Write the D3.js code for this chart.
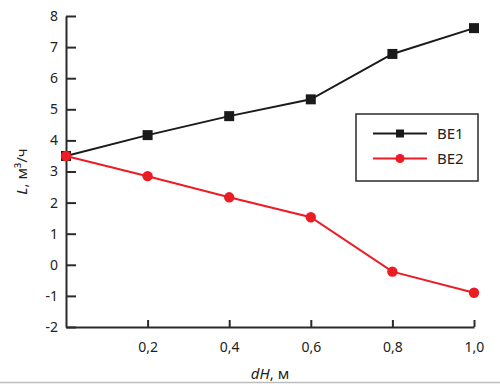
<!DOCTYPE html>
<html>
<head>
<meta charset="utf-8">
<script src="https://cdn.jsdelivr.net/npm/d3@7"></script>
<style>
	body { margin: 0; background: #fff; }
	svg { display: block; font-family: "Noto Sans", "Open Sans", sans-serif; }
</style>
</head>
<body>
<script>
(function () {
	"use strict";

	var w = 500;
	var h = 384;
	var margin = { top: 16, right: 26, bottom: 57, left: 66 };

	// data
	var dH = [0, 0.2, 0.4, 0.6, 0.8, 1.0];
	var be1 = [3.5, 4.17, 4.78, 5.32, 6.78, 7.61];
	var be2 = [3.5, 2.85, 2.17, 1.53, -0.22, -0.9];
	var seriesNames = ["BE1", "BE2"];
	var xTicks = [0.2, 0.4, 0.6, 0.8, 1.0];
	var yTicks = [-2, -1, 0, 1, 2, 3, 4, 5, 6, 7, 8];

	var axisColor = "#2b2b2b";
	var colors = ["#1a1a1a", "#ec1c24"];

	var svg = d3.select("body")
		.append("svg")
		.attr("width", w)
		.attr("height", h);

	var xScale = d3.scaleLinear()
		.domain([0, 1])
		.range([margin.left, w - margin.right]);

	var yScale = d3.scaleLinear()
		.domain([-2, 8])
		.range([h - margin.bottom, margin.top]);

	var fmt = d3.format(".1f");

	// Axis
	var xAxisGen = d3.axisBottom(xScale)
		.tickValues(xTicks)
		.tickSizeInner(-7)
		.tickSizeOuter(0)
		.tickPadding(15)
		.tickFormat((d) => fmt(d).replace(".", ","));

	var yAxisGen = d3.axisLeft(yScale)
		.tickValues(yTicks)
		.tickSizeInner(-10)
		.tickSizeOuter(0)
		.tickPadding(8)
		.tickFormat((d) => String(d));

	var xAxis = svg.append("g")
		.attr("transform", "translate(0, " + (h - margin.bottom) + ")")
		.call(xAxisGen);

	var yAxis = svg.append("g")
		.attr("transform", "translate(" + margin.left + ", 0)")
		.call(yAxisGen);

	[xAxis, yAxis].forEach(function (ax) {
		ax.select(".domain").attr("stroke", axisColor).attr("stroke-width", 2);
		ax.selectAll(".tick line").attr("stroke", axisColor).attr("stroke-width", 2);
		ax.selectAll(".tick text")
			.attr("fill", "#222")
			.style("font-size", "14px")
			.style("font-family", "'Noto Sans', 'Open Sans', sans-serif");
	});

	// axis titles
	var yTitle = svg.append("text")
		.attr("transform", "translate(27, " + ((margin.top + h - margin.bottom) / 2) + ") rotate(-90)")
		.attr("text-anchor", "middle")
		.attr("fill", "#222")
		.style("font-size", "15px");
	yTitle.append("tspan").style("font-style", "italic").text("L");
	yTitle.append("tspan").text(", м³/ч");

	var xTitle = svg.append("text")
		.attr("x", (margin.left + w - margin.right) / 2)
		.attr("y", 379)
		.attr("text-anchor", "middle")
		.attr("fill", "#222")
		.style("font-size", "15px");
	xTitle.append("tspan").style("font-style", "italic").text("dH");
	xTitle.append("tspan").text(", м");

	// bottom rule of the figure
	svg.append("line")
		.attr("x1", 0).attr("x2", w)
		.attr("y1", 382.5).attr("y2", 382.5)
		.attr("stroke", "#bdbdbd")
		.attr("stroke-width", 1.5);

	// Lines
	var lineFun = d3.line()
		.x((d) => xScale(d[0]))
		.y((d) => yScale(d[1]));

	var data1 = dH.map((x, i) => [x, be1[i]]);
	var data2 = dH.map((x, i) => [x, be2[i]]);

	svg.append("path")
		.attr("d", lineFun(data1))
		.attr("stroke", colors[0])
		.attr("stroke-width", 2)
		.attr("fill", "none");

	svg.selectAll("rect.be1")
		.data(data1)
		.enter()
		.append("rect")
		.attr("class", "be1")
		.attr("x", (d) => xScale(d[0]) - 5)
		.attr("y", (d) => yScale(d[1]) - 5)
		.attr("width", 10)
		.attr("height", 10)
		.attr("fill", colors[0]);

	svg.append("path")
		.attr("d", lineFun(data2))
		.attr("stroke", colors[1])
		.attr("stroke-width", 2)
		.attr("fill", "none");

	svg.selectAll("circle.be2")
		.data(data2)
		.enter()
		.append("circle")
		.attr("class", "be2")
		.attr("cx", (d) => xScale(d[0]))
		.attr("cy", (d) => yScale(d[1]))
		.attr("r", 5.2)
		.attr("fill", colors[1]);

	// Legend
	var legend = svg.append("g")
		.attr("transform", "translate(356, 114)");

	legend.append("rect")
		.attr("x", 0).attr("y", 0)
		.attr("width", 122).attr("height", 67)
		.attr("fill", "#fff")
		.attr("stroke", axisColor)
		.attr("stroke-width", 1.5);

	seriesNames.forEach(function (name, i) {
		var ly = 19.5 + i * 25;
		var item = legend.append("g");
		item.append("line")
			.attr("x1", 17).attr("x2", 71)
			.attr("y1", ly).attr("y2", ly)
			.attr("stroke", colors[i])
			.attr("stroke-width", 2);
		if (i === 0) {
			item.append("rect")
				.attr("x", 40).attr("y", ly - 4)
				.attr("width", 8).attr("height", 8)
				.attr("fill", colors[i]);
		} else {
			item.append("circle")
				.attr("cx", 44).attr("cy", ly)
				.attr("r", 4.5)
				.attr("fill", colors[i]);
		}
		item.append("text")
			.attr("x", 81)
			.attr("y", ly + 5.5)
			.attr("fill", "#222")
			.style("font-size", "15px")
			.text(name);
	});
})();
</script>
</body>
</html>
